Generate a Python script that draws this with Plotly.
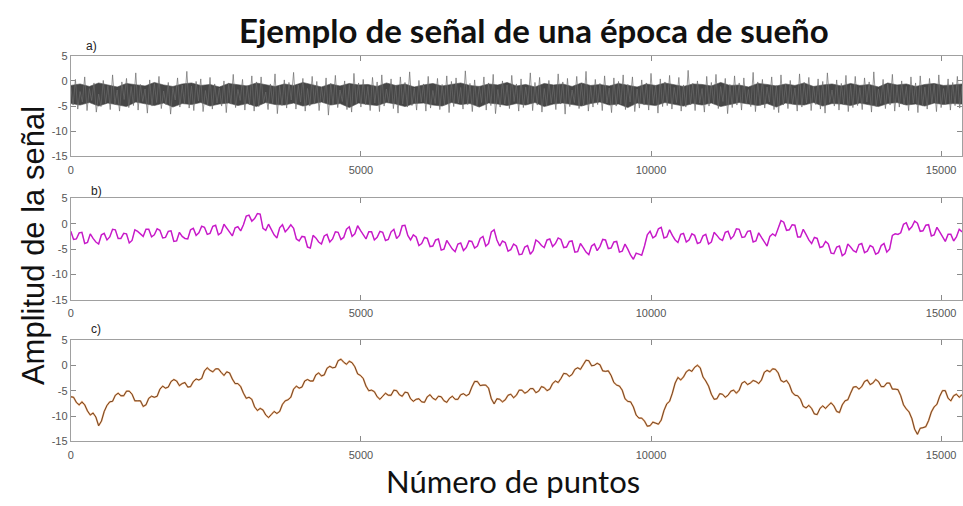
import numpy as np
import plotly.graph_objects as go

# ---------------- data ----------------
N_POINTS = 15360
x_ticks = [0, 5000, 10000, 15000]
y_ticks = [-15, -10, -5, 0, 5]
panel_labels = ["a)", "b)", "c)"]
title_text = "Ejemplo de señal de una época de sueño"
y_title = "Amplitud de la señal"
x_title = "Número de puntos"

# a) raw EEG: spiky trace plus the dense core of the band
signal_a = [
    -1.2,-4.8,0.3,-5.6,-2.1,-4.2,0.8,-5.9,-1.5,-3.9,-0.4,-6.2,-2.6,-5.1,0.1,-4.4,
    -0.9,-5.7,1.2,-4.6,-1.8,-6.0,-0.2,-3.7,0.5,-5.3,-1.1,-4.9,1.6,-5.8,-0.7,-4.1,
    -1.6,-6.4,0.2,-5.0,-0.5,-4.3,0.9,-5.5,-2.0,-4.7,-0.3,-6.6,-1.3,-3.8,0.6,-5.2,
    -0.8,-4.5,1.9,-5.4,-1.0,-5.9,-0.1,-4.0,0.4,-6.1,-1.9,-4.8,0.7,-5.6,-0.6,-4.4,
    -1.4,-5.0,0.0,-6.3,-0.4,-4.6,1.3,-5.3,-1.7,-3.9,0.3,-5.8,-0.9,-4.7,1.0,-6.0,
    -0.2,-5.1,0.8,-4.3,-2.2,-5.7,-0.6,-4.5,1.4,-6.5,-1.0,-4.9,0.2,-5.4,-0.3,-3.8,
    1.7,-5.6,-0.8,-4.2,0.5,-6.0,-1.5,-5.0,0.9,-4.6,-0.1,-5.9,-1.2,-4.4,0.6,-6.8,
    -0.5,-4.8,1.1,-5.3,-1.8,-4.1,0.0,-5.7,-0.7,-6.2,1.5,-4.5,-0.4,-5.2,0.3,-4.7,
    -1.1,-5.9,0.7,-4.4,-0.2,-6.1,1.2,-5.0,-1.6,-4.3,0.4,-5.5,-0.9,-6.4,0.8,-4.6,
    -0.3,-5.2,1.8,-4.9,-1.4,-5.8,0.1,-4.2,-0.6,-6.0,0.9,-5.4,-1.9,-4.5,0.5,-5.7,
    -0.7,-4.8,1.0,-6.3,-0.1,-5.1,0.6,-4.4,-1.3,-5.6,2.0,-4.7,-0.5,-6.1,0.2,-5.0,
    -1.0,-4.3,0.8,-5.8,-0.4,-4.9,1.3,-6.5,-1.7,-5.2,0.0,-4.6,-0.8,-5.5,1.1,-4.1,
    -0.6,-6.0,0.4,-5.3,-1.2,-4.5,1.6,-5.9,-0.3,-4.8,0.7,-6.2,-1.5,-5.0,0.1,-4.4,
    -0.9,-5.7,1.4,-4.6,-0.2,-6.6,0.5,-5.1,-1.8,-4.3,0.9,-5.5,-0.6,-4.9,1.9,-6.0,
    -1.1,-5.2,0.3,-4.7,-0.5,-5.9,1.0,-4.4,-1.4,-6.3,0.6,-5.0,-0.1,-4.6,1.2,-5.7,
    -0.7,-4.2,0.8,-6.1,-1.6,-5.4,0.2,-4.8,-0.4,-5.8,1.5,-4.5,-1.0,-6.4,0.4,-5.1,
    -0.2,-4.9,1.1,-5.6,-1.3,-4.3,0.7,-6.0,-0.8,-5.2,2.1,-4.7,-0.5,-5.9,0.0,-4.4,
    -1.5,-6.2,0.9,-5.0,-0.3,-4.6,1.3,-5.5,-1.1,-4.1,0.5,-6.5,-0.7,-5.3,1.0,-4.8,
    -0.4,-5.8,0.6,-4.5,-1.7,-5.1,1.7,-6.1,-0.2,-4.9,0.3,-5.4,-1.2,-4.2,0.8,-5.7,
    -0.9,-6.3,1.2,-4.8,-0.6,-5.5,0.1,-4.6,-1.4,-6.0,1.4,-5.2,-0.3,-4.4,0.7,-5.9,
    -1.0,-4.7,0.4,-5.6,-0.1,-6.4,1.6,-4.3,-1.8,-5.0,0.2,-5.8,-0.5,-4.6,1.1,-6.1,
    -0.8,-5.3,0.9,-4.9,-1.3,-5.7,0.6,-4.2,-0.2,-6.2,1.8,-5.1,-1.6,-4.5,0.3,-5.5,
    -0.6,-4.8,1.3,-6.0,-0.9,-5.2,0.0,-4.7,-1.1,-5.9,0.8,-4.4,-0.4,-6.3,1.0,-5.0,
    -1.2,-5.6,0.5,-4.5,-0.7,-6.1,1.2,-5.3,-1.5,-4.6,0.4,-5.8,-0.3,-4.9,0.9,-5.4,
    -1.0,
]
core_upper_a = [
    -0.9,-0.6,-1.1,-0.4,-0.8,-1.2,-0.5,-0.7,-1.0,-0.3,-0.8,-1.1,-0.6,-0.4,-0.9,-0.7,
    -1.2,-0.5,-0.8,-1.0,-0.4,-0.7,-1.1,-0.6,-0.9,-0.3,-0.8,-1.2,-0.6,-1.0,-0.5,-0.8,
    -0.7,-1.1,-0.4,-0.9,-0.6,-1.2,-0.8,-0.5,-1.0,-0.7,-0.4,-0.9,-1.1,-0.6,-0.8,-0.3,
    -1.0,-0.7,-1.2,-0.5,-0.8,-0.6,-1.1,-0.4,-0.9,-0.7,-1.0,-0.5,-0.8,-1.2,-0.6,-0.9,
    -0.4,-0.8,-1.1,-0.6,-0.7,-1.0,-0.3,-0.9,-0.8,-1.2,-0.5,-0.7,-1.0,-0.6,-0.9,-0.4,
    -1.1,-0.8,-0.6,-1.0,-0.5,-0.9,-0.7,-1.2,-0.4,-0.8,-0.6,-1.1,-0.7,-0.5,-0.9,-0.8,
    -0.6,
]
core_lower_a = [
    -4.5,-4.8,-4.3,-5.0,-4.4,-4.7,-5.1,-4.2,-4.6,-4.9,-4.4,-5.2,-4.5,-4.7,-4.3,-5.0,
    -4.6,-4.4,-4.9,-4.5,-5.1,-4.3,-4.7,-4.8,-4.4,-5.0,-4.6,-4.2,-4.8,-4.5,-5.3,-4.4,
    -4.7,-4.9,-4.3,-4.6,-5.1,-4.5,-4.4,-4.8,-5.0,-4.3,-4.7,-4.5,-5.2,-4.4,-4.6,-4.9,
    -4.5,-4.8,-4.3,-5.1,-4.6,-4.4,-4.7,-5.0,-4.5,-4.2,-4.8,-4.6,-5.3,-4.4,-4.7,-4.9,
    -4.3,-4.6,-5.0,-4.5,-4.8,-4.4,-5.1,-4.7,-4.3,-4.6,-4.9,-4.5,-5.2,-4.4,-4.7,-4.8,
    -4.3,-5.0,-4.5,-4.6,-4.9,-4.4,-4.7,-5.1,-4.5,-4.3,-4.8,-4.6,-5.0,-4.4,-4.7,-4.5,
    -4.6,
]

signal_b = [
    -1.5,-3.1,-3.0,-1.8,-1.7,-3.9,-3.7,-2.0,-2.9,-3.6,-4.0,-2.2,-1.9,-3.2,-2.6,-1.1,
    -1.2,-2.9,-2.9,-1.9,-2.0,-3.8,-3.3,-1.2,-1.5,-2.1,-2.5,-1.1,-1.1,-2.6,-2.2,-1.0,
    -1.3,-2.8,-2.7,-1.5,-1.4,-3.5,-3.4,-1.7,-2.5,-2.9,-3.0,-1.2,-0.9,-2.3,-1.8,-0.5,
    -0.7,-2.1,-1.9,-0.5,-0.3,-2.2,-1.8,-0.1,-0.9,-1.8,-2.4,-0.8,-0.6,-1.4,-0.2,1.5,
    1.7,0.5,1.0,2.0,1.9,-0.9,-1.3,-0.1,-1.3,-2.2,-2.8,-0.8,-0.2,-1.6,-1.0,-0.2,
    -0.9,-3.0,-3.4,-2.5,-2.6,-4.6,-4.8,-2.3,-2.8,-3.6,-4.0,-2.4,-2.1,-3.6,-3.0,-1.6,
    -1.7,-3.1,-2.7,-1.1,-0.6,-2.5,-2.0,-0.4,-1.3,-2.3,-3.0,-1.6,-1.6,-3.2,-2.7,-1.5,
    -1.7,-3.3,-3.1,-1.6,-1.1,-2.9,-2.3,-0.4,-0.3,-2.3,-3.2,-2.2,-2.6,-4.3,-3.9,-2.7,
    -2.9,-4.5,-4.4,-3.2,-3.0,-5.2,-5.0,-3.3,-4.1,-5.0,-5.5,-4.0,-3.8,-5.3,-4.7,-3.4,
    -3.5,-4.8,-4.4,-2.9,-2.5,-4.4,-3.9,-1.6,-1.2,-3.2,-4.4,-3.4,-3.7,-5.4,-5.1,-4.0,
    -4.4,-6.1,-6.0,-4.6,-4.3,-6.0,-5.3,-3.2,-3.6,-4.3,-4.7,-3.2,-3.0,-4.5,-3.9,-2.8,
    -3.1,-4.7,-4.6,-3.5,-3.4,-5.6,-5.5,-3.9,-4.7,-5.6,-6.1,-4.4,-4.0,-5.3,-4.5,-3.1,
    -3.2,-4.9,-4.8,-3.6,-3.5,-5.6,-5.4,-4.0,-5.0,-6.2,-7.0,-5.8,-6.0,-6.2,-4.4,-2.2,
    -1.5,-2.8,-2.4,-1.0,-0.7,-2.8,-2.6,-1.2,-2.3,-3.2,-3.7,-2.1,-1.9,-3.6,-3.2,-2.0,
    -2.3,-3.9,-3.7,-2.4,-2.1,-4.0,-3.6,-1.7,-2.3,-3.0,-3.3,-1.7,-1.5,-3.0,-2.4,-1.0,
    -1.1,-2.7,-2.6,-1.5,-1.4,-3.6,-3.4,-1.8,-2.7,-3.7,-4.4,-2.5,-2.0,-2.4,-0.7,0.6,
    0.3,-1.3,-1.2,-0.2,-0.3,-2.6,-2.6,-1.1,-2.1,-3.2,-3.9,-2.7,-2.9,-4.7,-4.5,-3.5,
    -4.0,-5.8,-5.9,-4.6,-4.4,-6.3,-5.9,-4.0,-4.6,-5.3,-5.6,-4.1,-3.9,-5.7,-5.4,-4.3,
    -4.6,-6.0,-5.7,-4.3,-3.9,-5.6,-5.0,-2.3,-2.0,-2.1,-1.8,-0.1,0.2,-1.2,-0.6,0.5,
    0.1,-1.5,-1.4,-0.3,-0.2,-2.4,-2.2,-0.7,-1.6,-2.7,-3.5,-2.1,-2.1,-3.4,-2.6,-1.1,
    -1.6,
]

signal_c = [
    -6.2,-6.3,-7.3,-7.8,-7.2,-7.8,-9.0,-9.8,-9.4,-10.2,-11.9,-11.0,-9.1,-7.9,-7.2,-7.1,
    -5.9,-5.5,-6.0,-6.0,-5.1,-5.1,-5.7,-7.0,-7.0,-7.0,-8.1,-7.8,-6.5,-6.1,-6.3,-6.1,
    -4.7,-4.1,-4.5,-4.3,-3.2,-2.8,-3.1,-4.0,-3.6,-3.4,-4.3,-4.2,-3.2,-2.7,-2.9,-2.6,
    -1.1,-0.5,-1.0,-1.3,-0.7,-0.7,-1.4,-2.0,-1.3,-1.5,-2.7,-3.6,-3.6,-4.2,-5.5,-6.5,
    -6.3,-6.7,-8.2,-8.9,-8.5,-8.8,-9.8,-10.3,-9.7,-9.1,-9.5,-9.1,-7.7,-7.0,-6.8,-6.3,
    -4.7,-4.1,-4.5,-4.3,-3.1,-2.8,-3.1,-3.1,-1.9,-1.5,-2.1,-1.9,-0.6,-0.2,-0.5,-0.4,
    0.9,1.2,0.6,0.2,0.8,0.5,-0.3,-1.7,-2.0,-2.6,-4.1,-5.0,-4.9,-5.2,-6.2,-6.7,
    -6.1,-5.5,-5.9,-5.9,-4.9,-5.0,-5.8,-6.1,-5.3,-5.4,-6.6,-7.1,-6.7,-6.6,-7.2,-7.3,
    -6.2,-5.8,-6.5,-6.8,-6.1,-6.2,-7.0,-7.3,-6.5,-6.1,-6.7,-6.7,-5.8,-5.6,-6.0,-5.7,
    -4.3,-3.2,-3.2,-4.0,-3.9,-3.9,-4.5,-6.6,-7.6,-6.6,-6.7,-7.2,-6.8,-5.9,-5.7,-6.4,
    -5.9,-4.9,-4.9,-5.5,-5.2,-4.6,-4.6,-5.4,-5.1,-4.2,-4.4,-5.0,-4.7,-3.6,-3.1,-3.4,
    -2.6,-1.6,-1.7,-2.2,-1.8,-0.8,-0.5,-0.8,0.1,1.0,0.9,-0.1,0.0,0.4,0.1,-1.1,
    -1.2,-1.1,-2.0,-3.4,-3.9,-4.1,-4.9,-6.6,-7.1,-7.2,-8.2,-9.8,-10.4,-10.4,-11.0,-12.0,
    -11.9,-11.2,-11.4,-11.6,-10.8,-8.9,-7.6,-7.1,-5.5,-3.5,-2.4,-2.9,-2.3,-1.3,-0.9,-1.2,
    -0.4,0.0,-0.5,-2.3,-3.1,-4.1,-5.7,-6.7,-6.6,-5.6,-5.7,-6.3,-5.9,-5.1,-4.9,-5.5,
    -4.9,-3.5,-3.2,-3.8,-3.5,-3.0,-3.2,-3.6,-2.9,-1.4,-1.0,-1.3,-0.7,-0.8,-1.5,-3.0,
    -3.3,-3.0,-3.8,-5.3,-5.9,-6.0,-6.7,-8.1,-8.4,-7.9,-8.5,-9.6,-9.7,-8.5,-8.0,-8.5,
    -7.9,-7.4,-8.0,-9.1,-9.3,-7.8,-7.0,-6.8,-5.5,-4.3,-4.2,-4.7,-4.2,-3.2,-2.9,-3.8,
    -3.5,-2.8,-3.2,-4.2,-4.2,-3.5,-3.5,-4.7,-4.7,-4.8,-6.0,-7.8,-8.6,-9.2,-10.5,-12.6,
    -13.6,-12.4,-12.3,-12.1,-10.9,-9.2,-8.2,-7.7,-6.1,-5.0,-5.0,-6.5,-7.0,-6.0,-5.7,-6.3,
    -5.8,
]

# ---------------- figure ----------------
W, H = 963, 506
fig = go.Figure()


def xs(vals):
    return np.linspace(0, N_POINTS, len(vals))


def line(x, y, color, width, ax, **kw):
    return go.Scatter(x=x, y=y, mode="lines", line=dict(color=color, width=width),
                      xaxis="x" + ax, yaxis="y" + ax, showlegend=False,
                      hoverinfo="skip", **kw)


# panel a: dense core band, spiky trace drawn on top
fig.add_trace(line(xs(core_lower_a), core_lower_a, "#464646", 0.6, ""))
fig.add_trace(line(xs(core_upper_a), core_upper_a, "#464646", 0.6, "",
                   fill="tonexty", fillcolor="#464646"))
fig.add_trace(line(xs(signal_a), signal_a, "#6c6c6c", 0.7, ""))

# panel b
fig.add_trace(line(xs(signal_b), signal_b, "#e01fe0", 1.5, "2"))
fig.add_trace(line(xs(signal_b), signal_b, "#7a2a80", 0.5, "2", opacity=0.7))

# panel c
fig.add_trace(line(xs(signal_c), signal_c, "#f2b07c", 1.8, "3"))
fig.add_trace(line(xs(signal_c), signal_c, "#4e2c14", 0.8, "3"))

x_dom = [68 / W, 962 / W]
panels = [(51, 154), (197, 301), (342, 446)]

tick_font = dict(family="Liberation Sans, Arial, sans-serif", size=11, color="#555555")
layout = dict(
    width=W, height=H,
    margin=dict(l=0, r=0, t=0, b=0),
    paper_bgcolor="white", plot_bgcolor="white",
    showlegend=False,
)
for i, (top, bot) in enumerate(panels):
    sfx = "" if i == 0 else str(i + 1)
    layout["xaxis" + sfx] = dict(
        domain=x_dom, range=[0, N_POINTS], anchor="y" + sfx,
        tickvals=x_ticks, ticktext=[str(v) for v in x_ticks],
        ticks="inside", ticklen=5, tickcolor="#8a8a8a", tickwidth=1,
        showline=True, linecolor="#a0a0a0", linewidth=1, mirror="ticks",
        showgrid=False, zeroline=False, tickfont=tick_font,
        ticklabelstandoff=3,
    )
    layout["yaxis" + sfx] = dict(
        domain=[1 - bot / H, 1 - top / H], range=[-15, 5], anchor="x" + sfx,
        tickvals=y_ticks, ticktext=[str(v) for v in y_ticks],
        ticks="inside", ticklen=5, tickcolor="#8a8a8a", tickwidth=1,
        showline=True, linecolor="#a0a0a0", linewidth=1, mirror="ticks",
        showgrid=False, zeroline=False, tickfont=tick_font,
    )
fig.update_layout(**layout)

annotations = [
    dict(text=title_text, x=533 / W, y=1 - 25 / H, xref="paper", yref="paper",
         showarrow=False, xanchor="center", yanchor="middle",
         font=dict(family="Lato, Open Sans, sans-serif", size=33, color="#111111", weight="bold")),
    dict(text=y_title, x=30 / W, y=1 - 245 / H, xref="paper", yref="paper",
         showarrow=False, xanchor="center", yanchor="middle", textangle=-90,
         font=dict(family="Liberation Sans, Arial, sans-serif", size=31, color="#111111")),
    dict(text=x_title, x=512 / W, y=1 - 487 / H, xref="paper", yref="paper",
         showarrow=False, xanchor="center", yanchor="middle",
         font=dict(family="Lato, Open Sans, sans-serif", size=31, color="#111111")),
]
label_pos = [(89, 41), (94, 190), (93, 331)]
for txt, (lx, ly) in zip(panel_labels, label_pos):
    annotations.append(dict(text=txt, x=lx / W, y=1 - ly / H, xref="paper", yref="paper",
                            showarrow=False, xanchor="center", yanchor="middle",
                            font=dict(family="Liberation Sans, Arial, sans-serif", size=12, color="#222222")))
fig.update_layout(annotations=annotations)

fig.write_html("out.html")
